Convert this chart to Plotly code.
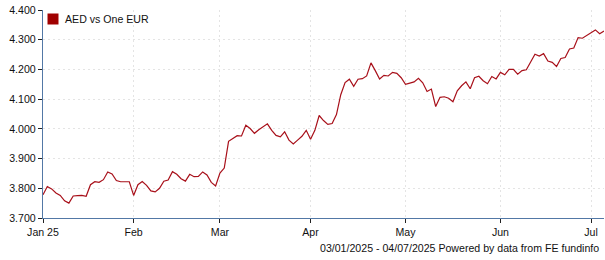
import pandas as pd
import plotly.graph_objects as go

# Trading days (weekdays) 03/01/2025 - 04/07/2025
dates = pd.bdate_range("2025-01-03", "2025-07-04")

jan_vals = [3.778, 3.806, 3.798, 3.784, 3.776, 3.758, 3.750, 3.774, 3.775, 3.776,
            3.773, 3.812, 3.822, 3.820, 3.829, 3.855, 3.848, 3.826, 3.822, 3.822, 3.822]
feb_vals = [3.776, 3.812, 3.823, 3.810, 3.791, 3.788, 3.800, 3.824, 3.828, 3.856,
            3.847, 3.832, 3.824, 3.847, 3.839, 3.840, 3.855, 3.845, 3.820, 3.808]
mar_vals = [3.851, 3.868, 3.958, 3.967, 3.977, 3.976, 4.012, 4.001, 3.985, 3.997,
            4.007, 4.017, 3.995, 3.978, 3.973, 3.990, 3.962, 3.949, 3.962, 3.975, 3.995]
apr_vals = [3.965, 3.995, 4.045, 4.028, 4.015, 4.018, 4.048, 4.115, 4.156, 4.167,
            4.143, 4.167, 4.169, 4.178, 4.222, 4.196, 4.168, 4.180, 4.178, 4.190,
            4.187, 4.172]
may_vals = [4.150, 4.154, 4.158, 4.170, 4.155, 4.126, 4.134, 4.075, 4.106, 4.108,
            4.103, 4.091, 4.128, 4.145, 4.158, 4.135, 4.172, 4.177, 4.162, 4.152,
            4.176, 4.168]
jun_vals = [4.190, 4.182, 4.200, 4.200, 4.184, 4.196, 4.199, 4.225, 4.251, 4.245,
            4.253, 4.228, 4.224, 4.210, 4.237, 4.240, 4.269, 4.272, 4.307, 4.305, 4.315]
jul_vals = [4.325, 4.333, 4.320, 4.329]

values = jan_vals + feb_vals + mar_vals + apr_vals + may_vals + jun_vals + jul_vals

tick_dates = ["2025-01-03", "2025-02-03", "2025-03-03", "2025-04-01",
              "2025-05-01", "2025-06-02", "2025-07-01"]
tick_labels = ["Jan 25", "Feb", "Mar", "Apr", "May", "Jun", "Jul"]
y_ticks = [3.7, 3.8, 3.9, 4.0, 4.1, 4.2, 4.3, 4.4]

series_name = "AED vs One EUR"
footer = "03/01/2025 - 04/07/2025 Powered by data from FE fundinfo"

LINE = "#a8101a"
AXIS = "#5278a6"
GRID = "#e4e4e4"
FONT = dict(family="Liberation Sans, Arial, sans-serif", size=10.6, color="#111111")

W, H = 605, 260
ML, MR, MT, MB = 43, 1, 10, 42
PW, PH = W - ML - MR, H - MT - MB

def px_x(p):
    return (p - ML) / PW

def px_y(p):
    return (MT + PH - p) / PH

fig = go.Figure()
fig.add_trace(go.Scatter(x=dates, y=values, mode="lines",
                         line=dict(color=LINE, width=1.2),
                         name=series_name, showlegend=False,
                         hoverinfo="x+y"))

fig.update_layout(
    width=W, height=H,
    margin=dict(l=ML, r=MR, t=MT, b=MB, pad=0),
    paper_bgcolor="white", plot_bgcolor="white",
    font=FONT,
    showlegend=False,
    xaxis=dict(
        type="date",
        range=[dates[0], dates[-1]],
        rangebreaks=[dict(bounds=["sat", "mon"])],
        tickmode="array", tickvals=tick_dates, ticktext=tick_labels,
        ticks="outside", ticklen=4, tickcolor="#222222", tickwidth=1,
        showline=True, linecolor=AXIS, linewidth=1.3,
        showgrid=True, gridcolor=GRID, griddash="2px,3px", gridwidth=1,
        zeroline=False, tickfont=FONT,
    ),
    yaxis=dict(
        range=[3.7, 4.4],
        tickmode="array", tickvals=y_ticks, tickformat=".3f",
        ticks="outside", ticklen=4, tickcolor="#222222", tickwidth=1,
        showline=True, linecolor=AXIS, linewidth=1.3,
        showgrid=True, gridcolor=GRID, griddash="2px,3px", gridwidth=1,
        zeroline=False, tickfont=FONT,
    ),
    shapes=[dict(type="rect", xref="paper", yref="paper",
                 x0=px_x(47.5), x1=px_x(58.5), y0=px_y(24.5), y1=px_y(13.5),
                 fillcolor="#a00000", line=dict(width=0))],
    annotations=[
        dict(text=series_name, xref="paper", yref="paper",
             x=px_x(62.5), y=px_y(19.5), xanchor="left", yanchor="middle",
             showarrow=False, font=FONT),
        dict(text=footer, xref="paper", yref="paper",
             x=px_x(601), y=px_y(248), xanchor="right", yanchor="middle",
             showarrow=False, font=FONT),
    ],
)

fig.write_html("out.html")
